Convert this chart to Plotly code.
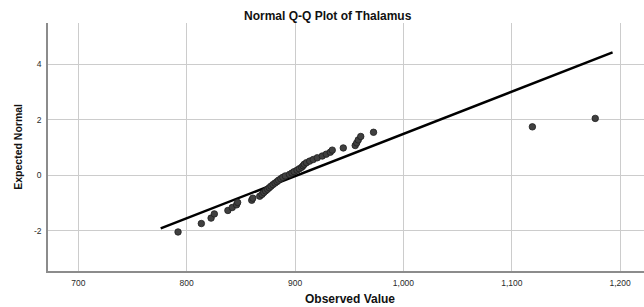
import numpy as np
import plotly.graph_objects as go

observed = [792, 813.5, 822.5, 825.5, 838, 842, 846, 847, 860, 861,
            867.4, 869.5, 871.1, 872.8, 874.6, 876.2, 877.8, 879.6, 881.5, 883.3,
            884.8, 886.8, 888.7, 891, 894.8, 897.1, 899.1, 901.8, 903.9, 906.1,
            907.4, 908.5, 910.5, 913.5, 916.8, 920.5, 925.1, 928.8, 932.5, 934.3,
            944.5, 955.5, 956.9, 958.3, 960.6, 972.4, 1119, 1177]
# Expected normal values
expected = [-2.045, -1.741, -1.545, -1.394, -1.270, -1.163, -1.068, -0.981, -0.902, -0.827,
            -0.757, -0.691, -0.627, -0.566, -0.507, -0.450, -0.394, -0.339, -0.285, -0.232,
            -0.180, -0.128, -0.077, -0.026, 0.026, 0.077, 0.128, 0.180, 0.232, 0.285,
            0.339, 0.394, 0.450, 0.507, 0.566, 0.627, 0.691, 0.757, 0.827, 0.902,
            0.981, 1.068, 1.163, 1.270, 1.394, 1.545, 1.741, 2.045]

# Reference line x extent
line_x = [776, 1193]

x_ticks = [700, 800, 900, 1000, 1100, 1200]
x_tick_labels = ["700", "800", "900", "1,000", "1,100", "1,200"]
y_ticks = [-2, 0, 2, 4]
y_tick_labels = ["-2", "0", "2", "4"]

mean = float(np.mean(observed))
sd = float(np.std(observed, ddof=1))
line_y = [(v - mean) / sd for v in line_x]

fig = go.Figure()
fig.add_trace(go.Scatter(x=line_x, y=line_y, mode="lines",
                         line=dict(color="#000000", width=2.5), hoverinfo="skip"))
fig.add_trace(go.Scatter(x=observed, y=expected, mode="markers",
                         marker=dict(size=6.5, color="#404040",
                                     line=dict(color="#1e1e1e", width=0.8))))

font_fam = "Liberation Sans, Arial, sans-serif"
fig.update_layout(
    width=644, height=307,
    margin=dict(l=48, r=0, t=23, b=36),
    paper_bgcolor="white", plot_bgcolor="white",
    showlegend=False,
    font=dict(family=font_fam, color="#333333"),
    xaxis=dict(range=[672, 1222], tickvals=x_ticks, ticktext=x_tick_labels,
               showgrid=True, gridcolor="#cccccc", gridwidth=1,
               zeroline=False, showline=True, linecolor="#8c8c8c", linewidth=1.5,
               ticks="", tickfont=dict(size=8.5, color="#2a2a2a"), ticklabelstandoff=3),
    yaxis=dict(range=[-3.45, 5.48], tickvals=y_ticks, ticktext=y_tick_labels,
               showgrid=True, gridcolor="#cccccc", gridwidth=1,
               zeroline=False, showline=True, linecolor="#8c8c8c", linewidth=1.5,
               ticks="", tickfont=dict(size=8.5, color="#2a2a2a"), ticklabelstandoff=3),
    annotations=[
        dict(text="<b>Normal Q-Q Plot of Thalamus</b>", xref="paper", yref="paper",
             x=(327.5 - 48) / 596, y=(270.7 - 15.7) / 248, xanchor="center", yanchor="middle",
             showarrow=False, font=dict(size=12, color="#111111", family=font_fam)),
        dict(text="<b>Observed Value</b>", xref="paper", yref="paper",
             x=(350 - 48) / 596, y=(270.7 - 298.5) / 248, xanchor="center", yanchor="middle",
             showarrow=False, font=dict(size=12, color="#111111", family=font_fam)),
        dict(text="<b>Expected Normal</b>", xref="paper", yref="paper",
             x=(18.5 - 48) / 596, y=(270.7 - 147) / 248, xanchor="center", yanchor="middle",
             textangle=-90, showarrow=False, font=dict(size=10.5, color="#111111", family=font_fam)),
    ],
)

fig.write_html("out.html", config={"displayModeBar": False},
               post_script="document.body.style.margin='0';")
